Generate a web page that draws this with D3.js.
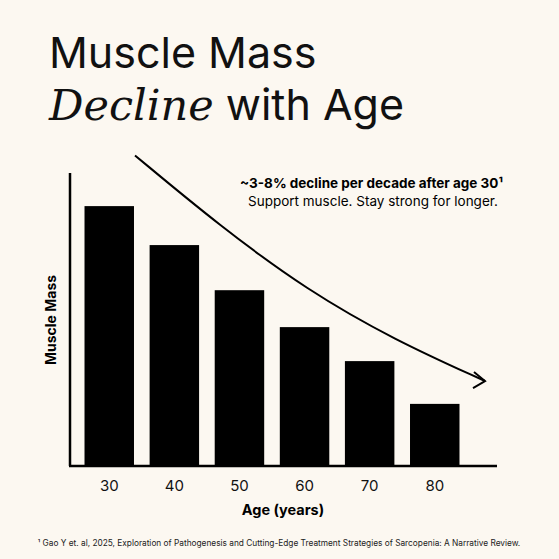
<!DOCTYPE html>
<html><head><meta charset="utf-8">
<script src="https://cdn.jsdelivr.net/npm/d3@7"></script>
<style>body{margin:0;background:#fcf8f1}svg{display:block}</style>
</head><body>
<script>
// chart data
const ages = ["30", "40", "50", "60", "70", "80"];
const muscleMass = [88.7, 75.4, 60, 47.4, 35.8, 21.2];
// trend arrow, in chart units (x: age position, y: mass)
const trendX = [25.5, 40, 55, 70, 85.5];
const trendY = [106, 82, 60, 43, 29];

const W = 559, H = 559;
const svg = d3.select("body").append("svg").attr("width", W).attr("height", H);
svg.append("rect").attr("width", W).attr("height", H).attr("fill", "#fcf8f1");

const x = d3.scaleBand().domain(ages).range([78, 466]).paddingInner(0.24).paddingOuter(0.1);
const y = d3.scaleLinear().domain([0, 100]).range([466, 173]);
const xl = d3.scaleLinear().domain([25, 85]).range([x("30") + x.bandwidth()/2 - 24.5 + 24.5 - 24, 485]);

// title
svg.append("text").attr("x", 49).attr("y", 68).attr("font-family", "Inter, sans-serif")
  .attr("font-size", 43).attr("fill", "#111").text("Muscle Mass");
const t2 = svg.append("text").attr("x", 49).attr("y", 120).attr("fill", "#111").attr("font-size", 43);
t2.append("tspan").attr("font-family", "'DejaVu Serif', 'Liberation Serif', serif").attr("font-style", "italic").text("Decline");
t2.append("tspan").attr("font-family", "Inter, sans-serif").text(" with Age");

// bars
svg.selectAll("rect.bar").data(muscleMass).join("rect").attr("class", "bar")
  .attr("x", (d, i) => x(ages[i])).attr("width", x.bandwidth())
  .attr("y", d => y(d)).attr("height", d => y(0) - y(d)).attr("fill", "#000");

// axes
svg.append("line").attr("x1", 70).attr("x2", 70).attr("y1", 173).attr("y2", 466).attr("stroke", "#000").attr("stroke-width", 2.5);
svg.append("line").attr("x1", 69).attr("x2", 497).attr("y1", 466).attr("y2", 466).attr("stroke", "#000").attr("stroke-width", 2.5);

svg.selectAll("text.tick").data(ages).join("text").attr("class", "tick")
  .attr("x", d => x(d) + x.bandwidth()/2).attr("y", 491).attr("text-anchor", "middle")
  .attr("font-family", "Inter, sans-serif").attr("font-size", 15).attr("fill", "#111").text(d => d);

svg.append("text").attr("x", 283).attr("y", 515).attr("text-anchor", "middle")
  .attr("font-family", "Inter, sans-serif").attr("font-weight", 700).attr("font-size", 14.5).text("Age (years)");
svg.append("text").attr("transform", "translate(56,320) rotate(-90)").attr("text-anchor", "middle")
  .attr("font-family", "Inter, sans-serif").attr("font-weight", 700).attr("font-size", 14).text("Muscle Mass");

// trend arrow
const tx = d3.scaleLinear().domain([25.5, 85.5]).range([135, 485]);
const line = d3.line().x(d => tx(d[0])).y(d => y(d[1])).curve(d3.curveBasis);
svg.append("path").datum(trendX.map((v, i) => [v, trendY[i]])).attr("d", line)
  .attr("fill", "none").attr("stroke", "#000").attr("stroke-width", 2);
const ex = tx(85.5), ey = y(29);
svg.append("path").attr("d", `M${ex-11},${ey-9} L${ex},${ey} L${ex-12},${ey+7}`)
  .attr("fill", "none").attr("stroke", "#000").attr("stroke-width", 2);

// annotation
svg.append("text").attr("x", 240).attr("y", 188).attr("font-family", "Inter, sans-serif")
  .attr("font-weight", 700).attr("font-size", 13.5).text("~3-8% decline per decade after age 30¹");
svg.append("text").attr("x", 248).attr("y", 206).attr("font-family", "Inter, sans-serif")
  .attr("font-size", 13.5).text("Support muscle. Stay strong for longer.");

// footnote
svg.append("text").attr("x", 279).attr("y", 546).attr("text-anchor", "middle").attr("font-family", "Inter, sans-serif")
  .attr("font-size", 8.3).attr("fill", "#222")
  .text("¹ Gao Y et. al, 2025, Exploration of Pathogenesis and Cutting-Edge Treatment Strategies of Sarcopenia: A Narrative Review.");
</script>
</body></html>
